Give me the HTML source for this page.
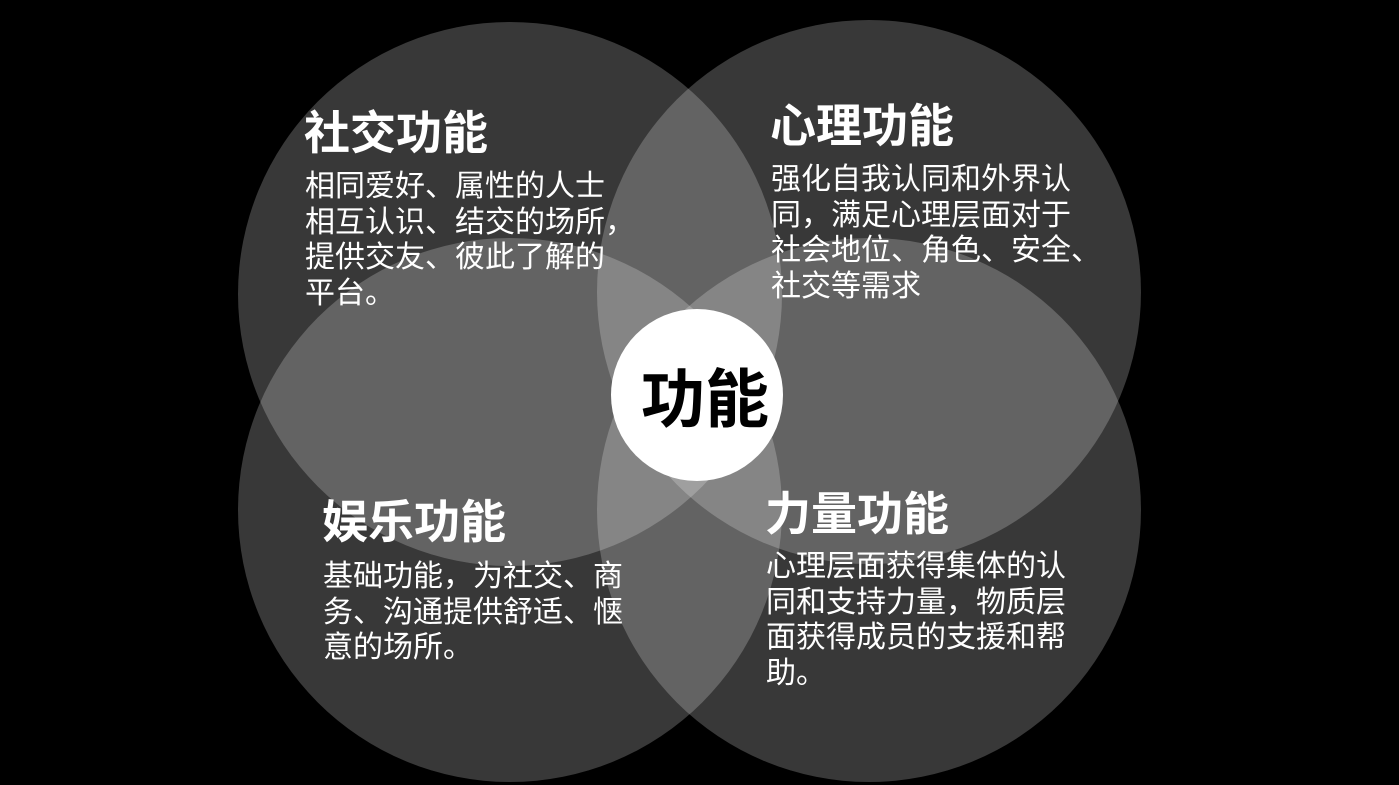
<!DOCTYPE html>
<html><head><meta charset="utf-8"><style>
html,body{margin:0;padding:0;background:#000;}
body{width:1399px;height:785px;position:relative;overflow:hidden;font-family:"Liberation Sans","Noto Sans CJK SC",sans-serif;color:#fff;}
.t{position:absolute;font-size:46px;font-weight:bold;line-height:52px;white-space:nowrap;}
.b{position:absolute;font-size:30px;line-height:35.5px;white-space:nowrap;}
</style></head><body>
<svg width="1399" height="785" style="position:absolute;left:0;top:0">
<g fill="rgba(255,255,255,0.22)">
<circle cx="510" cy="294" r="272"/>
<circle cx="869" cy="292" r="272"/>
<circle cx="510" cy="510" r="272"/>
<circle cx="869" cy="510" r="272"/>
</g>
<circle cx="697" cy="395" r="86" fill="#fff"/>
</svg>
<div class="t" style="left:304px;top:107px">社交功能</div>
<div class="b" style="left:305px;top:169px">相同爱好、属性的人士<br>相互认识、结交的场所，<br>提供交友、彼此了解的<br>平台。</div>
<div class="t" style="left:770px;top:100px">心理功能</div>
<div class="b" style="left:771px;top:162px">强化自我认同和外界认<br>同，满足心理层面对于<br>社会地位、角色、安全、<br>社交等需求</div>
<div class="t" style="left:322px;top:496px">娱乐功能</div>
<div class="b" style="left:323px;top:559px">基础功能，为社交、商<br>务、沟通提供舒适、惬<br>意的场所。</div>
<div class="t" style="left:765px;top:488px">力量功能</div>
<div class="b" style="left:766px;top:549px">心理层面获得集体的认<br>同和支持力量，物质层<br>面获得成员的支援和帮<br>助。</div>
<div style="position:absolute;left:619px;top:364px;width:172px;text-align:center;font-size:64px;font-weight:bold;line-height:72px;color:#000">功能</div>
</body></html>
